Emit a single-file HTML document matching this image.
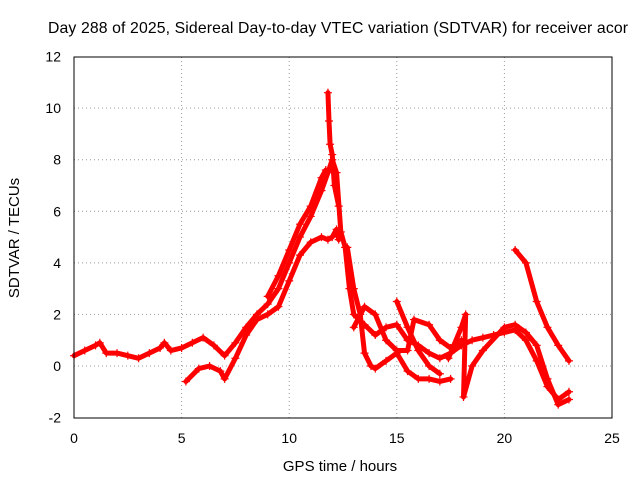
<!DOCTYPE html>
<html><head><meta charset="utf-8"><style>
body{margin:0;background:#fff}
svg{display:block;font-family:"Liberation Sans",sans-serif}
</style></head><body>
<svg id="chart" width="640" height="480">
<text x="338" y="33" font-size="15.8" text-anchor="middle" textLength="580">Day 288 of 2025, Sidereal Day-to-day VTEC variation (SDTVAR) for receiver acor</text>
<text x="340" y="471" font-size="15" text-anchor="middle">GPS time / hours</text>
<text transform="translate(19,238) rotate(-90)" font-size="15" text-anchor="middle">SDTVAR / TECUs</text>
<g id="grid"></g><g id="ticks"></g><g id="marks"></g>
<rect x="74" y="57" width="538" height="361" fill="none" stroke="#000"/>
</svg>
<script>
const xTicks=[0,5,10,15,20,25];
const yTicks=[-2,0,2,4,6,8,10,12];
const trackA=[[0,0.4],[0.5,0.6],[1,0.8],[1.2,0.9],[1.5,0.5],[2,0.5],[2.5,0.4],[3,0.3],[3.5,0.5],[4,0.7],[4.2,0.9],[4.5,0.6],[5,0.7],[5.5,0.9],[6,1.1],[6.5,0.8],[7,0.4],[7.5,0.9],[8,1.5],[8.5,2.0],[9,2.4],[9.5,3.0],[10,4.0],[10.5,5.0],[11,5.8],[11.5,6.8],[11.8,7.5],[12,8.0],[12.2,7.5],[12.4,5.2],[12.6,4.6],[12.8,3.0],[13,2.0],[13.5,1.6],[14,1.2],[14.5,1.5],[15,1.6],[15.5,1.0],[16,0.8],[16.5,0.5],[17,0.3],[17.5,0.5],[18,0.8],[18.5,1.0],[19,1.1],[19.5,1.2],[20,1.3],[20.5,1.4],[21,1.0],[21.5,0.2],[22,-0.8],[22.5,-1.3],[23,-1.0]];
const trackB=[[5.2,-0.6],[5.8,-0.1],[6.3,0.0],[6.8,-0.2],[7,-0.5],[7.5,0.3],[8,1.2],[8.5,1.8],[9,2.0],[9.5,2.3],[10,3.3],[10.5,4.3],[11,4.8],[11.5,5.0],[11.8,4.9],[12,5.0],[12.2,5.3],[12.3,4.9]];
const trackC=[[9,2.7],[9.5,3.5],[10,4.5],[10.5,5.5],[11,6.2],[11.5,7.3],[11.7,7.6]];
const trackSpike=[[11.8,10.6],[11.85,9.5],[11.9,8.6],[12,8.2],[12.1,7.0],[12.3,6.2]];
const trackD=[[12.7,4.6],[13,3.0],[13.3,2.0],[13.5,0.5],[13.8,0.0],[14,-0.1],[14.5,0.2],[15,0.5],[15.5,-0.2],[16,-0.5],[16.5,-0.5],[17,-0.6],[17.5,-0.5]];
const trackE=[[13,1.5],[13.5,2.3],[14,2.0],[14.5,1.0],[15,0.6],[15.5,0.6],[15.8,1.8],[16.5,1.6],[17,1.0],[17.5,0.7],[18,1.0]];
const trackF=[[17.4,0.3],[18,1.5],[18.2,2.0],[18.1,-1.2],[18.5,0.0],[19,0.6],[20,1.5],[20.5,1.6],[21,1.3],[21.5,0.8],[22,-0.5],[22.5,-1.5],[23,-1.3]];
const trackG=[[20.5,4.5],[21,4.0],[21.5,2.5],[22,1.5],[22.5,0.8],[23,0.2]];
const trackH=[[15,2.5],[15.5,1.5],[16,0.6],[16.5,0.0],[17,-0.3]];
const tracks=[trackA,trackB,trackC,trackSpike,trackD,trackE,trackF,trackG,trackH];
const NS="http://www.w3.org/2000/svg";
const X=v=>74+v*(538/25), Y=v=>366-v*(361/14);
const grid=document.getElementById('grid'),ticks=document.getElementById('ticks'),marks=document.getElementById('marks');
function mk(tag,attrs,parent){const e=document.createElementNS(NS,tag);for(const k in attrs)e.setAttribute(k,attrs[k]);parent.appendChild(e);return e;}
xTicks.forEach(t=>{
 if(t>0&&t<25){const g=mk('line',{x1:X(t),x2:X(t),y1:57,y2:418,stroke:'#999','stroke-dasharray':'1,3'},grid);
 
 }
 const l=mk('text',{x:X(t),y:443,'font-size':14,'text-anchor':'middle'},ticks);l.textContent=t;
 
 
});
yTicks.forEach(t=>{
 if(t>-2&&t<12){const g=mk('line',{x1:74,x2:612,y1:Y(t),y2:Y(t),stroke:'#999','stroke-dasharray':'1,3'},grid);
 
 }
 const l=mk('text',{x:61,y:Y(t)+5,'font-size':14,'text-anchor':'end'},ticks);l.textContent=t;
 
 
});
tracks.forEach((tr,i)=>{
 const p=mk('polyline',{points:tr.map(d=>X(d[0])+','+Y(d[1])).join(' '),fill:'none',stroke:'#f00','stroke-width':5,'stroke-linejoin':'round','stroke-linecap':'round'},marks);
 
 
 tr.forEach(d=>{
  const m=mk('path',{d:`M${X(d[0])-4},${Y(d[1])}h8M${X(d[0])},${Y(d[1])-4}v8`,stroke:'#f00','stroke-width':1.2},marks);
  
  
 });
});
</script>
</body></html>
